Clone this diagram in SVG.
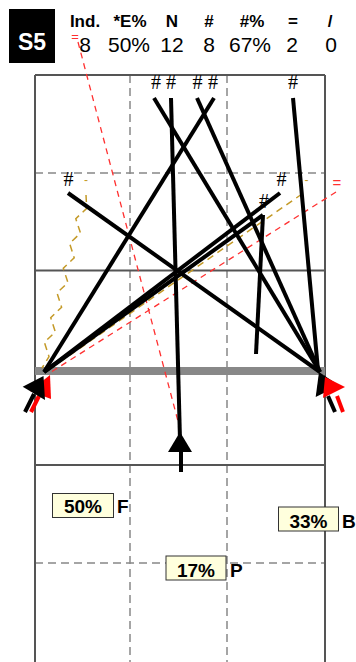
<svg xmlns="http://www.w3.org/2000/svg" width="356" height="662" viewBox="0 0 356 662">
<style>
.grid{stroke:#888;stroke-width:1.5;stroke-dasharray:8 5;fill:none}
.court{stroke:#555;stroke-width:2;fill:none}
.shot{stroke:#000;stroke-width:4;fill:none;stroke-linecap:butt}
.red{stroke:#ff3030;stroke-width:1.3;stroke-dasharray:6 5;fill:none}
.gold{stroke:#c49a28;stroke-width:1.5;stroke-dasharray:7 5;fill:none}
.hd{font-family:'Liberation Sans',Arial,sans-serif;font-weight:bold;font-size:17px;text-anchor:middle}
.val{font-family:'Liberation Sans',Arial,sans-serif;font-size:21px;text-anchor:middle}
.hash{font-family:'Liberation Serif','Times New Roman',serif;font-size:20px;text-anchor:middle}
.box{fill:#ffffdd;stroke:#333;stroke-width:1}
.pct{font-family:'Liberation Sans',Arial,sans-serif;font-weight:bold;font-size:19px;text-anchor:middle}
.zl{font-family:'Liberation Sans',Arial,sans-serif;font-weight:bold;font-size:19px}
</style>
<rect width="356" height="662" fill="#fff"/>
<g id="header">
<rect x="9" y="9" width="46" height="54" fill="#000"/>
<text x="32" y="50" font-family="'Liberation Sans',Arial,sans-serif" font-weight="bold" font-size="23" fill="#fff" text-anchor="middle">S5</text>
<text class="hd" x="85" y="26.5">Ind.</text>
<text class="hd" x="130" y="26.5">*E%</text>
<text class="hd" x="172" y="26.5">N</text>
<text class="hd" x="209" y="26.5">#</text>
<text class="hd" x="252" y="26.5">#%</text>
<text class="hd" x="293" y="26.5">=</text>
<text class="hd" x="330" y="26.5">/</text>
<text class="val" x="85" y="51.5">8</text>
<text class="val" x="129" y="51.5">50%</text>
<text class="val" x="172" y="51.5">12</text>
<text class="val" x="209" y="51.5">8</text>
<text class="val" x="250" y="51.5">67%</text>
<text class="val" x="292" y="51.5">2</text>
<text class="val" x="331" y="51.5">0</text>
</g>
<g id="court">
<line class="grid" x1="130" y1="75" x2="130" y2="662"/>
<line class="grid" x1="227" y1="75" x2="227" y2="662"/>
<line class="grid" x1="35" y1="173" x2="325" y2="173"/>
<line class="grid" x1="35" y1="563" x2="325" y2="563"/>
<line class="court" x1="35" y1="75" x2="325" y2="75"/>
<line class="court" x1="35" y1="75" x2="35" y2="662"/>
<line class="court" x1="325" y1="75" x2="325" y2="662" stroke="#777"/>
<line class="court" x1="35" y1="270.5" x2="325" y2="270.5" stroke="#666"/>
<line class="court" x1="35" y1="465" x2="325" y2="465" stroke="#555"/>
<rect x="35" y="367" width="290" height="8" fill="#888"/>
</g>
<g id="connectors">
<line class="red" x1="78" y1="42" x2="179" y2="425"/>
<line class="red" x1="336" y1="192" x2="48" y2="374"/>
<line class="gold" x1="302" y1="194" x2="47" y2="371"/>
<polyline class="gold" points="86,195 86.7,208.4 75.8,218.7 80.5,233.1 69.6,243.4 74.2,257.8 63.3,268.2 67.9,282.5 57,292.9 61.6,307.2 50.7,317.6 55.3,331.9 44.4,342.3 49,356.6 42,368"/>
<line class="shot" x1="214" y1="98" x2="44" y2="372"/>
<line class="shot" x1="280" y1="193" x2="44" y2="372"/>
<line class="shot" x1="263" y1="215" x2="44" y2="372"/>
<line class="shot" x1="263" y1="215" x2="256" y2="354"/>
<line class="shot" x1="68" y1="193" x2="320" y2="372"/>
<line class="shot" x1="154" y1="98" x2="320" y2="372"/>
<line class="shot" x1="197" y1="98" x2="320" y2="372"/>
<line class="shot" x1="293" y1="98" x2="318" y2="370"/>
<line class="shot" x1="171" y1="98" x2="180" y2="440"/>
</g>
<g id="marks">
<text class="hash" x="156" y="89">#</text>
<text class="hash" x="171" y="89">#</text>
<text class="hash" x="197.5" y="89">#</text>
<text class="hash" x="213" y="89">#</text>
<text class="hash" x="293" y="89">#</text>
<text class="hash" x="68.5" y="186">#</text>
<text class="hash" x="281.5" y="186">#</text>
<text class="hash" x="264" y="208">#</text>
<text x="75" y="41" font-family="'Liberation Sans',Arial,sans-serif" font-size="13" fill="#ff3030" text-anchor="middle">=</text>
<text x="337" y="188" font-family="'Liberation Sans',Arial,sans-serif" font-size="15" fill="#ff3030" text-anchor="middle">=</text>
<text x="86" y="184" font-family="'Liberation Sans',Arial,sans-serif" font-size="12" fill="#c49a28" text-anchor="middle">-</text>
<text x="306.5" y="184" font-family="'Liberation Sans',Arial,sans-serif" font-size="12" fill="#c49a28" text-anchor="middle">-</text>
</g>
<g id="arrow-left">
<line x1="31" y1="412" x2="39" y2="396" stroke="#f00" stroke-width="4"/>
<polygon points="50,375 51,399 30,391" fill="#f00"/>
<line x1="25" y1="412" x2="34" y2="394" stroke="#000" stroke-width="4"/>
<polygon points="43.5,376 45,400 22.7,386.7" fill="#000"/>
</g>
<g id="arrow-right">
<line x1="335" y1="412" x2="328" y2="396" stroke="#000" stroke-width="4"/>
<polygon points="319,372 339,385.5 315.7,397" fill="#000"/>
<line x1="343" y1="412" x2="337" y2="396" stroke="#f00" stroke-width="4"/>
<polygon points="325,377 345,387 323,398" fill="#f00"/>
</g>
<g id="arrow-bottom">
<polygon points="180,432 168,452 192,452" fill="#000"/>
<line x1="181" y1="450" x2="181" y2="472" stroke="#000" stroke-width="4"/>
</g>
<g id="zone-F">
<rect class="box" x="52.5" y="493.5" width="61" height="24"/>
<text class="pct" x="83" y="513">50%</text>
<text class="zl" x="117" y="513">F</text>
</g>
<g id="zone-B">
<rect class="box" x="278.5" y="507" width="60" height="24"/>
<text class="pct" x="308.5" y="527.5">33%</text>
<text class="zl" x="342" y="527.5">B</text>
</g>
<g id="zone-P">
<rect class="box" x="166" y="556" width="60" height="24"/>
<text class="pct" x="196" y="576.5">17%</text>
<text class="zl" x="230" y="576.5">P</text>
</g>
</svg>
